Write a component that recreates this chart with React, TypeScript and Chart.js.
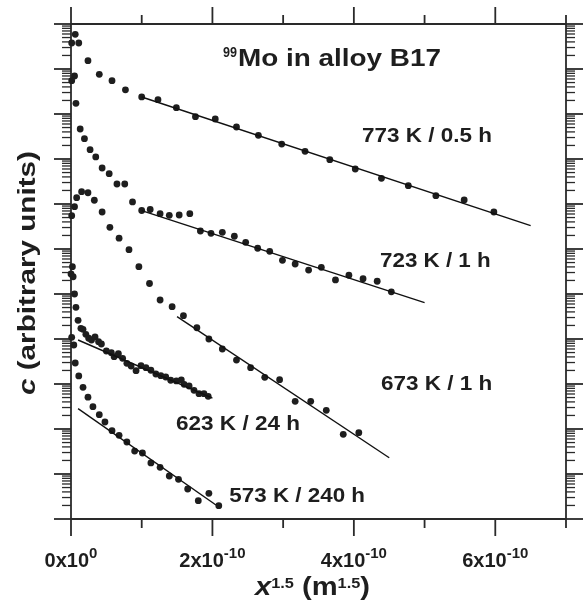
import React, { useEffect, useRef } from 'react';
import { Chart, registerables } from 'chart.js';

Chart.register(...registerables);

// x values in units of 1e-10 m^1.5 ; c in arbitrary units (log scale)
const x773 = [0.06, 0.01, 0.11, 0.24, 0.40, 0.58, 0.77, 1.00, 1.23, 1.49, 1.76, 2.04, 2.34, 2.65, 2.98, 3.31, 3.66, 4.02, 4.39, 4.77, 5.16, 5.56, 5.98];
const y773 = [5.9e10, 3.78e10, 3.78e10, 1.53e10, 7.62e9, 5.5e9, 3.45e9, 2.39e9, 2.08e9, 1.38e9, 8.71e8, 7.74e8, 5.14e8, 3.36e8, 2.15e8, 1.48e8, 9.64e7, 6.0e7, 3.72e7, 2.55e7, 1.53e7, 1.23e7, 6.64e6];

const x723 = [0.05, 0.01, 0.07, 0.13, 0.19, 0.27, 0.35, 0.44, 0.54, 0.65, 0.76, 0.87, 1.00, 1.12, 1.26, 1.39, 1.53, 1.68, 1.83, 1.98, 2.14, 2.31, 2.47, 2.64, 2.81, 2.99, 3.17, 3.36, 3.54, 3.74, 3.93, 4.13, 4.33, 4.53];
const y723 = [6.99e9, 5.5e9, 1.73e9, 4.64e8, 2.83e8, 1.61e8, 1.11e8, 6.31e7, 4.71e7, 2.78e7, 2.78e7, 1.11e7, 7.17e6, 7.55e6, 6.09e6, 5.61e6, 5.7e6, 6.09e6, 2.51e6, 2.23e6, 2.35e6, 1.92e6, 1.41e6, 1.04e6, 8.89e5, 5.61e5, 4.64e5, 3.41e5, 3.92e5, 2.05e5, 2.61e5, 2.19e5, 1.92e5, 1.12e5];

const x673 = [0.05, 0.01, 0.08, 0.15, 0.24, 0.33, 0.44, 0.55, 0.68, 0.82, 0.96, 1.11, 1.26, 1.43, 1.59, 1.78, 1.95, 2.14, 2.34, 2.54, 2.74, 2.95, 3.17, 3.39, 3.61, 3.85, 4.07];
const y673 = [8.71e6, 5.5e6, 1.38e7, 1.88e7, 1.78e7, 1.21e7, 6.64e6, 3.03e6, 1.74e6, 9.65e5, 4.04e5, 1.71e5, 7.36e4, 5.22e4, 3.3e4, 1.78e4, 1.0e4, 6.0e3, 3.41e3, 2.3e3, 1.41e3, 1.25e3, 413, 413, 260, 76.3, 82.7];

const x623 = [0.02, 0.00, 0.03, 0.05, 0.07, 0.10, 0.14, 0.17, 0.21, 0.25, 0.29, 0.34, 0.39, 0.43, 0.50, 0.57, 0.61, 0.67, 0.73, 0.79, 0.85, 0.92, 0.99, 1.06, 1.13, 1.20, 1.27, 1.34, 1.41, 1.49, 1.56, 1.60, 1.67, 1.74, 1.81, 1.88, 1.94];
const y623 = [4.04e5, 2.78e5, 2.42e5, 1.0e5, 5.06e4, 2.6e4, 1.73e4, 1.64e4, 1.27e4, 1.04e4, 9.5e3, 1.11e4, 8.71e3, 7.74e3, 5.41e3, 4.96e3, 4.04e3, 4.71e3, 3.72e3, 2.88e3, 2.51e3, 1.98e3, 2.55e3, 2.3e3, 2.02e3, 1.67e3, 1.53e3, 1.43e3, 1.21e3, 1.17e3, 1.23e3, 985, 903, 724, 609, 609, 533];

const x573 = [0.01, 0.04, 0.06, 0.11, 0.17, 0.24, 0.31, 0.40, 0.48, 0.58, 0.68, 0.79, 0.90, 1.01, 1.13, 1.26, 1.39, 1.52, 1.65, 1.80, 1.95, 2.09];
const y573 = [1.09e4, 7.36e3, 2.93e3, 1.51e3, 845, 509, 313, 208, 143, 91.6, 72.4, 51.4, 32.4, 29.3, 17.6, 14.1, 9.03, 7.62, 4.64, 2.55, 3.72, 1.98];

// fitted straight lines (end points)
const fitX773 = [1.0, 6.5];
const fitY773 = [2.39e9, 3.3e6];
const fitX723 = [1.0, 5.0];
const fitY723 = [7.1e6, 6.41e4];
const fitX673 = [1.5, 4.5];
const fitY673 = [3.13e4, 23.0];
const fitX623 = [0.1, 2.0];
const fitY623 = [9.5e3, 488];
const fitX573 = [0.1, 2.05];
const fitY573 = [283, 2.05];

const seriesLabels = ['773 K / 0.5 h', '723 K / 1 h', '673 K / 1 h', '623 K / 24 h', '573 K / 240 h'];

// axes
const xMin = 0;
const xMax = 7;
const xTickValues = [0, 1, 2, 3, 4, 5, 6, 7];
const xLabelValues = [0, 2, 4, 6];
const xLabelMantissa = ['0', '2', '4', '6'];
const xLabelExponent = ['0', '-10', '-10', '-10'];
const yMin = 1;
const yMax = 1e11;
const yDecadeExponents = [0, 1, 2, 3, 4, 5, 6, 7, 8, 9, 10, 11];
const yMinorMultipliers = [2, 3, 4, 5, 6, 7, 8, 9];

const FAMILY = '"Liberation Sans", Arial, Helvetica, sans-serif';
const INK = '#1e1e1e';
const AXIS = '#2a2a2a';

type Seg = { text: string; size: number; dy?: number; italic?: boolean };

function segFont(s: Seg) {
  return `${s.italic ? 'italic ' : ''}bold ${s.size}px ${FAMILY}`;
}

function drawRich(
  ctx: CanvasRenderingContext2D,
  segs: Seg[],
  x: number,
  y: number,
  opts: { width?: number; align?: 'left' | 'center'; rotate?: number } = {}
) {
  const widths = segs.map((s) => {
    ctx.font = segFont(s);
    return ctx.measureText(s.text).width;
  });
  const natural = widths.reduce((a, b) => a + b, 0);
  const sx = opts.width ? opts.width / natural : 1;
  const total = natural * sx;
  ctx.save();
  ctx.translate(x, y);
  if (opts.rotate) ctx.rotate(opts.rotate);
  const start = opts.align === 'center' ? -total / 2 : 0;
  ctx.translate(start, 0);
  ctx.scale(sx, 1);
  ctx.fillStyle = INK;
  ctx.textAlign = 'left';
  ctx.textBaseline = 'alphabetic';
  let cx = 0;
  segs.forEach((s, i) => {
    ctx.font = segFont(s);
    ctx.fillText(s.text, cx, s.dy || 0);
    cx += widths[i];
  });
  ctx.restore();
}

const axesPlugin = {
  id: 'customAxes',
  beforeDatasetsDraw(chart: any) {
    const { ctx, chartArea: a } = chart;
    const xs = chart.scales.x;
    const ys = chart.scales.y;
    ctx.save();
    ctx.strokeStyle = AXIS;
    ctx.lineWidth = 1.8;
    ctx.lineCap = 'butt';
    const seg = (x1: number, y1: number, x2: number, y2: number) => {
      ctx.beginPath();
      ctx.moveTo(x1, y1);
      ctx.lineTo(x2, y2);
      ctx.stroke();
    };
    // frame
    seg(a.left, a.top, a.right, a.top);
    seg(a.left, a.bottom, a.right, a.bottom);
    seg(a.left, a.top, a.left, a.bottom);
    seg(a.right, a.top, a.right, a.bottom);
    // x ticks (outward, top and bottom)
    xTickValues.forEach((v) => {
      const px = xs.getPixelForValue(v);
      const len = xLabelValues.includes(v) ? 17 : 9;
      seg(px, a.top, px, a.top - len);
      seg(px, a.bottom, px, a.bottom + len);
    });
    // y ticks (log, outward, left and right)
    yDecadeExponents.forEach((e) => {
      const major = Math.pow(10, e);
      const py = ys.getPixelForValue(major);
      ctx.lineWidth = 1.8;
      seg(a.left, py, a.left - 17, py);
      seg(a.right, py, a.right + 17, py);
      ctx.lineWidth = 1.3;
      yMinorMultipliers.forEach((m) => {
        const v = m * major;
        if (v > yMax) return;
        const p = ys.getPixelForValue(v);
        seg(a.left, p, a.left - 9, p);
        seg(a.right, p, a.right + 9, p);
      });
    });
    ctx.restore();

    // x tick labels
    xLabelValues.forEach((v, i) => {
      const px = xs.getPixelForValue(v);
      drawRich(
        ctx,
        [
          { text: `${xLabelMantissa[i]}x10`, size: 20 },
          { text: xLabelExponent[i], size: 15, dy: -9 },
        ],
        px,
        567,
        { align: 'center' }
      );
    });

    // axis titles
    drawRich(
      ctx,
      [
        { text: 'x', size: 25, italic: true },
        { text: '1.5', size: 14, dy: -7 },
        { text: ' (m', size: 25 },
        { text: '1.5', size: 14, dy: -7 },
        { text: ')', size: 25 },
      ],
      255,
      595,
      { width: 115 }
    );
    drawRich(
      ctx,
      [
        { text: 'c', size: 24, italic: true },
        { text: ' (arbitrary units)', size: 24 },
      ],
      34.5,
      395,
      { width: 244, rotate: -Math.PI / 2 }
    );

    // title
    drawRich(ctx, [{ text: '99', size: 14 }], 223, 57, { width: 14 });
    drawRich(ctx, [{ text: 'Mo in alloy B17', size: 23 }], 238, 66, { width: 203 });

    // series labels
    const labelPos = [
      { x: 362, y: 142, w: 130 },
      { x: 380, y: 266.5, w: 110.7 },
      { x: 381, y: 390, w: 111.3 },
      { x: 176, y: 430, w: 124 },
      { x: 229.3, y: 501.5, w: 135.7 },
    ];
    seriesLabels.forEach((t, i) => {
      const p = labelPos[i];
      drawRich(ctx, [{ text: t, size: 21 }], p.x, p.y, { width: p.w });
    });
  },
};

function pts(xs: number[], ys: number[]) {
  return xs.map((x, i) => ({ x, y: ys[i] }));
}

export default function App() {
  const ref = useRef<HTMLCanvasElement | null>(null);
  useEffect(() => {
    if (!ref.current) return;
    const scatter = (label: string, xs: number[], ys: number[]) => ({
      type: 'scatter' as const,
      label,
      data: pts(xs, ys),
      showLine: false,
      pointRadius: 3.4,
      pointHoverRadius: 3.4,
      pointBackgroundColor: INK,
      pointBorderWidth: 0,
      borderColor: INK,
      backgroundColor: INK,
      clip: false as any,
    });
    const fit = (label: string, xs: number[], ys: number[]) => ({
      type: 'line' as const,
      label,
      data: pts(xs, ys),
      showLine: true,
      pointRadius: 0,
      borderColor: '#111',
      borderWidth: 1.4,
      fill: false,
      clip: false as any,
    });
    const chart = new Chart(ref.current, {
      type: 'scatter',
      data: {
        datasets: [
          fit('fit ' + seriesLabels[0], fitX773, fitY773),
          fit('fit ' + seriesLabels[1], fitX723, fitY723),
          fit('fit ' + seriesLabels[2], fitX673, fitY673),
          fit('fit ' + seriesLabels[3], fitX623, fitY623),
          fit('fit ' + seriesLabels[4], fitX573, fitY573),
          scatter(seriesLabels[0], x773, y773),
          scatter(seriesLabels[1], x723, y723),
          scatter(seriesLabels[2], x673, y673),
          scatter(seriesLabels[3], x623, y623),
          scatter(seriesLabels[4], x573, y573),
        ] as any,
      },
      options: {
        animation: false,
        responsive: true,
        maintainAspectRatio: false,
        layout: { padding: { left: 71, top: 24, right: 18, bottom: 87 } },
        scales: {
          x: { type: 'linear', min: xMin, max: xMax, display: false },
          y: { type: 'logarithmic', min: yMin, max: yMax, display: false },
        },
        plugins: {
          legend: { display: false },
          tooltip: { enabled: false },
        },
        events: [],
      },
      plugins: [axesPlugin],
    });
    return () => chart.destroy();
  }, []);
  return (
    <div style={{ position: 'fixed', left: 0, top: 0, width: 584, height: 606, background: '#fff' }}>
      <canvas ref={ref} />
    </div>
  );
}
